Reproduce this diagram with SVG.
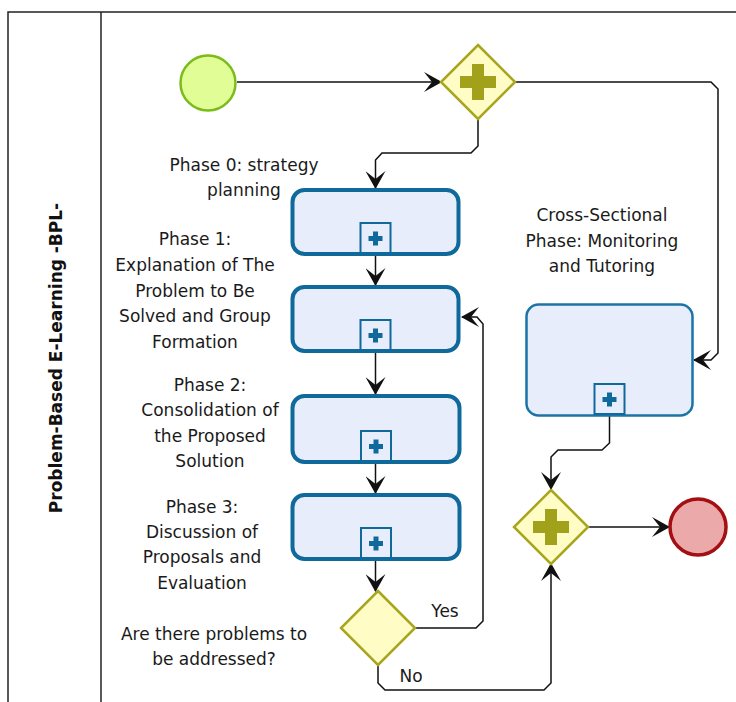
<svg xmlns="http://www.w3.org/2000/svg" width="736" height="702" viewBox="0 0 736 702">
<style>
  .lbl { font-family: "DejaVu Sans", "Liberation Sans", sans-serif; font-size: 17px; fill: #1a1a1a; text-anchor: middle; }
  .pool { font-family: "DejaVu Sans", "Liberation Sans", sans-serif; font-size: 17px; font-weight: bold; fill: #111; text-anchor: middle; }
  .task { fill: #e8edfc; stroke: #10699b; stroke-width: 4; }
  .task2 { fill: #e8edfc; stroke: #1a74a6; stroke-width: 2.5; }
  .mk { fill: #e8edfc; stroke: #10699b; stroke-width: 2; }
  .mkp { fill: #10699b; }
  .gw { fill: #fffcc6; stroke: #a8a61e; stroke-width: 2.5; }
  .gwp { fill: #a2a11c; }
  .conn { fill: none; stroke: #111; stroke-width: 1.5; }
</style>
<defs>
  <marker id="arr" viewBox="0 0 18 20" refX="17" refY="10" markerWidth="18" markerHeight="20" markerUnits="userSpaceOnUse" orient="auto">
    <path d="M0,0 L18,10 L0,20 L8,10 Z" fill="#111"/>
  </marker>
</defs>

<g id="pool">
  <rect x="8" y="12" width="740" height="700" fill="none" stroke="#222" stroke-width="1.5"/>
  <line x1="101" y1="12" x2="101" y2="702" stroke="#222" stroke-width="1.5"/>
  <text class="pool" transform="translate(62,358) rotate(-90)">Problem-Based E-Learning -BPL-</text>
</g>

<g id="connectors">
  <path class="conn" d="M237,82 L441,82" marker-end="url(#arr)"/>
  <path class="conn" d="M478,119 L478,146 L471,153 L382,153 L375.5,160 L375.5,188" marker-end="url(#arr)"/>
  <path class="conn" d="M516,82 L711,82 L718,89 L718,353 L711,360 L694,360" marker-end="url(#arr)"/>
  <path class="conn" d="M375.5,256 L375.5,285" marker-end="url(#arr)"/>
  <path class="conn" d="M375.5,353 L375.5,394" marker-end="url(#arr)"/>
  <path class="conn" d="M375.5,464 L375.5,493" marker-end="url(#arr)"/>
  <path class="conn" d="M375.5,561 L375.5,591" marker-end="url(#arr)"/>
  <path class="conn" d="M415,628 L476,628 L483,621 L483,324 L477,317 L462,317" marker-end="url(#arr)"/>
  <path class="conn" d="M378,665 L378,683 L385,690 L544,690 L551,683 L551,564" marker-end="url(#arr)"/>
  <path class="conn" d="M609.5,415 L609.5,443 L602,450 L558,450 L551,457 L551,489" marker-end="url(#arr)"/>
  <path class="conn" d="M588,527 L669,527" marker-end="url(#arr)"/>
</g>

<g id="start">
  <circle cx="208" cy="83" r="27.5" fill="#e1fd96" stroke="#7cbb1c" stroke-width="2.5"/>
</g>

<g id="gateway1">
  <polygon class="gw" points="478,45 515,82 478,119 441,82"/>
  <rect class="gwp" x="460" y="76" width="36" height="12"/>
  <rect class="gwp" x="472" y="64" width="12" height="36"/>
</g>

<g id="phase0">
  <rect class="task" x="292.5" y="190" width="166" height="64" rx="12"/>
  <rect class="mk" x="360.5" y="223" width="30" height="30"/>
  <rect class="mkp" x="368.5" y="236" width="14" height="5"/>
  <rect class="mkp" x="373" y="231.5" width="5" height="14"/>
  <text class="lbl" x="244" y="171">Phase 0: strategy</text>
  <text class="lbl" x="244" y="196">planning</text>
</g>

<g id="phase1">
  <rect class="task" x="292.5" y="287" width="166" height="64" rx="12"/>
  <rect class="mk" x="360.5" y="320" width="30" height="30"/>
  <rect class="mkp" x="368.5" y="333" width="14" height="5"/>
  <rect class="mkp" x="373" y="328.5" width="5" height="14"/>
  <text class="lbl" x="195" y="245">Phase 1:</text>
  <text class="lbl" x="195" y="271">Explanation of The</text>
  <text class="lbl" x="195" y="297">Problem to Be</text>
  <text class="lbl" x="195" y="322">Solved and Group</text>
  <text class="lbl" x="195" y="348">Formation</text>
</g>

<g id="phase2">
  <rect class="task" x="292.5" y="396" width="167" height="66" rx="12"/>
  <rect class="mk" x="361" y="431" width="30" height="30"/>
  <rect class="mkp" x="369" y="444" width="14" height="5"/>
  <rect class="mkp" x="373.5" y="439.5" width="5" height="14"/>
  <text class="lbl" x="210" y="391">Phase 2:</text>
  <text class="lbl" x="210" y="416">Consolidation of</text>
  <text class="lbl" x="210" y="442">the Proposed</text>
  <text class="lbl" x="210" y="467">Solution</text>
</g>

<g id="phase3">
  <rect class="task" x="292.5" y="495" width="167" height="64" rx="12"/>
  <rect class="mk" x="361" y="528" width="30" height="30"/>
  <rect class="mkp" x="369" y="541" width="14" height="5"/>
  <rect class="mkp" x="373.5" y="536.5" width="5" height="14"/>
  <text class="lbl" x="202" y="513">Phase 3:</text>
  <text class="lbl" x="202" y="538">Discussion of</text>
  <text class="lbl" x="202" y="563">Proposals and</text>
  <text class="lbl" x="202" y="589">Evaluation</text>
</g>

<g id="decision">
  <polygon class="gw" points="378,591 415,628 378,665 341,628"/>
  <text class="lbl" x="214" y="640">Are there problems to</text>
  <text class="lbl" x="214" y="665">be addressed?</text>
  <text class="lbl" x="445" y="617">Yes</text>
  <text class="lbl" x="411" y="682">No</text>
</g>

<g id="crossSectional">
  <rect class="task2" x="526.5" y="304.5" width="166" height="111" rx="12"/>
  <rect class="mk" x="594.5" y="384" width="30" height="30"/>
  <rect class="mkp" x="602.5" y="397" width="14" height="5"/>
  <rect class="mkp" x="607" y="392.5" width="5" height="14"/>
  <text class="lbl" x="602" y="221">Cross-Sectional</text>
  <text class="lbl" x="602" y="247">Phase: Monitoring</text>
  <text class="lbl" x="602" y="272">and Tutoring</text>
</g>

<g id="gateway2">
  <polygon class="gw" points="551,490 588,527 551,564 514,527"/>
  <rect class="gwp" x="533" y="521" width="36" height="12"/>
  <rect class="gwp" x="545" y="509" width="12" height="36"/>
</g>

<g id="end">
  <circle cx="698" cy="527" r="28" fill="#eca9a9" stroke="#a30f12" stroke-width="3.5"/>
</g>
</svg>
